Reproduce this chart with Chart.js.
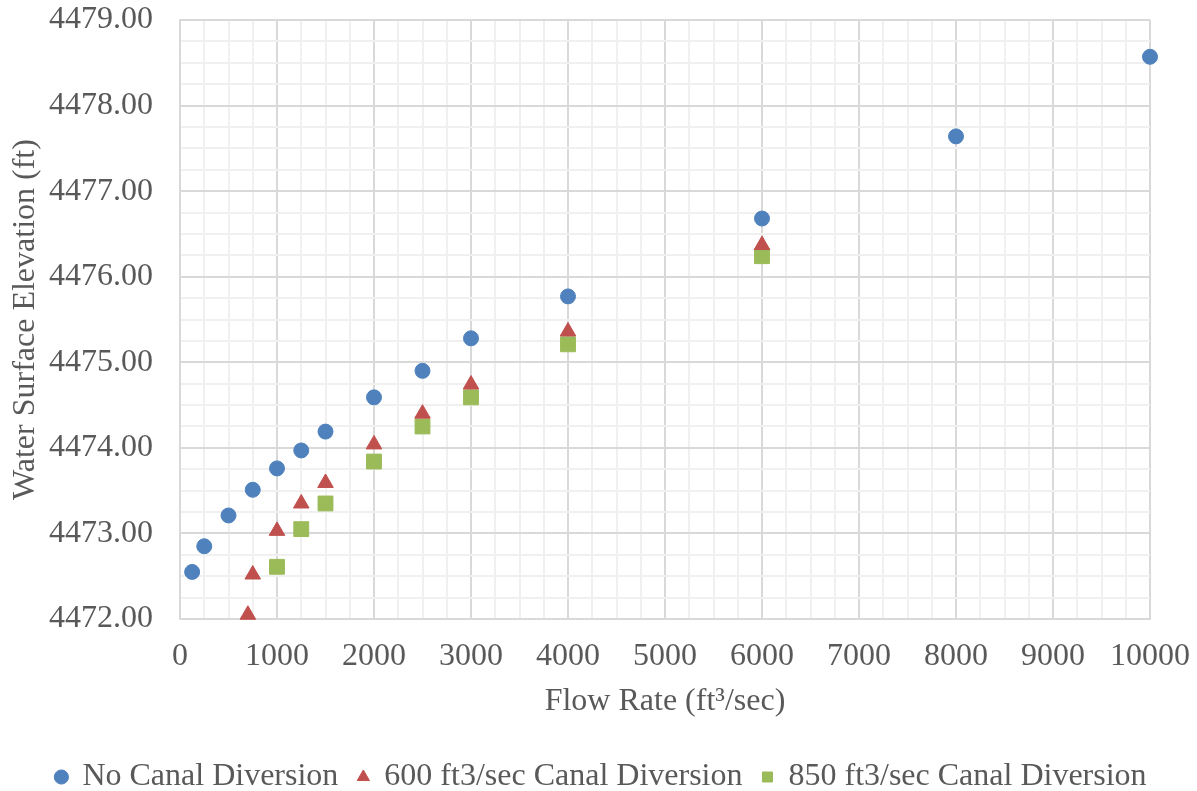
<!DOCTYPE html>
<html>
<head>
<meta charset="utf-8">
<script src="https://cdn.jsdelivr.net/npm/chart.js@4"></script>
<style>
  html, body { margin: 0; padding: 0; background: #fff; }
  #wrap { width: 1197px; height: 791px; }
</style>
</head>
<body>
<div id="wrap"><canvas id="chart" width="1197" height="791"></canvas></div>
<script>
// Flow rate (ft3/sec) and water surface elevation (ft) for each case
const noDivFlow = [125, 250, 500, 750, 1000, 1250, 1500, 2000, 2500, 3000, 4000, 6000, 8000, 10000];
const noDivElev = [4472.55, 4472.85, 4473.21, 4473.51, 4473.76, 4473.97, 4474.19, 4474.59, 4474.90, 4475.28, 4475.77, 4476.68, 4477.64, 4478.57];

const div600Flow = [700, 750, 1000, 1250, 1500, 2000, 2500, 3000, 4000, 6000];
const div600Elev = [4472.05, 4472.52, 4473.03, 4473.35, 4473.59, 4474.04, 4474.40, 4474.74, 4475.36, 4476.37];

const div850Flow = [1000, 1250, 1500, 2000, 2500, 3000, 4000, 6000];
const div850Elev = [4472.61, 4473.05, 4473.35, 4473.84, 4474.25, 4474.59, 4475.21, 4476.24];

const seriesNames = ['No Canal Diversion', '600 ft3/sec Canal Diversion', '850 ft3/sec Canal Diversion'];

function toPoints(xs, ys) {
  return xs.map((x, i) => ({ x: x, y: ys[i] }));
}

const font = { family: "'Liberation Serif', 'Times New Roman', serif", size: 32 };
const textColor = '#595959';

// major lines darker, minor lines lighter
function gridColor(ctx, major) {
  const v = ctx.tick ? ctx.tick.value : 0;
  return Math.abs(v / major - Math.round(v / major)) < 1e-6 ? '#d9d9d9' : '#f0f0f0';
}

const data = {
  datasets: [
    {
      label: seriesNames[0],
      data: toPoints(noDivFlow, noDivElev),
      backgroundColor: '#4f81bd',
      borderColor: '#4f81bd',
      pointStyle: 'circle',
      pointRadius: 7.5,
      pointHoverRadius: 7.5,
      clip: false
    },
    {
      label: seriesNames[1],
      data: toPoints(div600Flow, div600Elev),
      backgroundColor: '#c0504d',
      borderColor: '#c0504d',
      pointStyle: 'triangle',
      pointRadius: 9,
      pointHoverRadius: 9,
      clip: false
    },
    {
      label: seriesNames[2],
      data: toPoints(div850Flow, div850Elev),
      backgroundColor: '#9bbb59',
      borderColor: '#9bbb59',
      pointStyle: 'rect',
      pointRadius: 10.5,
      pointHoverRadius: 10.5,
      clip: false
    }
  ]
};

const config = {
  type: 'scatter',
  data: data,
  options: {
    responsive: false,
    animation: false,
    layout: { autoPadding: false, padding: { top: 0, right: 0, left: 6, bottom: -12 } },
    plugins: {
      tooltip: { enabled: false },
      legend: {
        position: 'bottom',
        labels: {
          usePointStyle: true,
          boxWidth: 10,
          boxHeight: 10,
          padding: 20,
          color: textColor,
          font: font
        }
      }
    },
    scales: {
      x: {
        type: 'linear',
        min: 0,
        max: 10000,
        border: { color: '#d9d9d9', width: 2 },
        ticks: {
          stepSize: 250,
          autoSkip: false,
          maxRotation: 0,
          color: textColor,
          font: font,
          padding: 18,
          callback: v => (v % 1000 === 0 ? String(v) : '')
        },
        grid: {
          color: ctx => gridColor(ctx, 1000),
          lineWidth: 2,
          drawTicks: false
        },
        title: {
          display: true,
          text: 'Flow Rate (ft³/sec)',
          color: textColor,
          font: font,
          padding: { top: 4, bottom: 20 }
        },
        afterFit: scale => {
          scale.height = 122;
          scale.paddingRight = 47;
          scale.paddingLeft = 0;
        }
      },
      y: {
        type: 'linear',
        min: 4472,
        max: 4479,
        border: { color: '#d9d9d9', width: 2 },
        ticks: {
          stepSize: 0.25,
          autoSkip: false,
          color: textColor,
          font: font,
          padding: 27,
          callback: v => (Math.abs(v - Math.round(v)) < 1e-6 ? v.toFixed(2) : '')
        },
        grid: {
          color: ctx => gridColor(ctx, 1),
          lineWidth: 2,
          drawTicks: false
        },
        title: {
          display: true,
          text: 'Water Surface Elevation (ft)',
          color: textColor,
          font: font,
          padding: { top: 0, bottom: 0 }
        },
        afterFit: scale => {
          scale.width = 174;
          scale.paddingTop = 20;
          scale.paddingBottom = 0;
        }
      }
    }
  }
};

const myChart = new Chart(document.getElementById('chart'), config);
</script>
</body>
</html>
